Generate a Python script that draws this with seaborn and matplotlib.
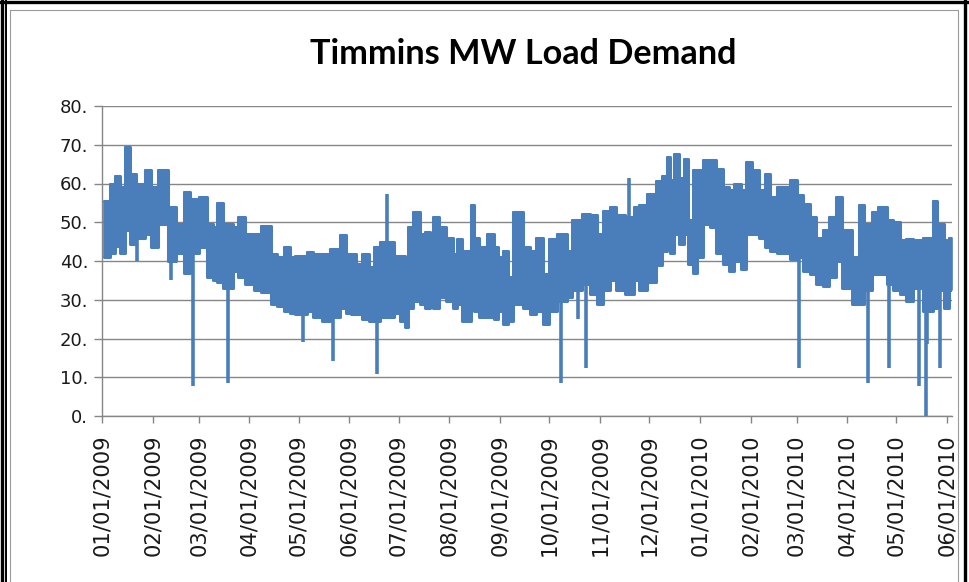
import pandas as pd
import matplotlib
matplotlib.use("Agg")
import matplotlib.pyplot as plt
import matplotlib.dates as mdates
from matplotlib.ticker import MultipleLocator, FuncFormatter
from matplotlib.lines import Line2D
import seaborn as sns

start = pd.Timestamp("2009-01-01")

# reading day (days after 01/01/2009), daily peak and trough around it (MW)
anchor_day = [1, 5, 8, 11, 14, 17, 21, 26, 30, 34,
              40, 45, 50, 54, 59, 64, 68, 70, 74, 80,
              83, 87, 93, 97, 103, 107, 111, 115, 118, 125,
              129, 134, 139, 145, 149, 152, 155, 159, 163, 166,
              170, 178, 182, 185, 187, 190, 194, 197, 200, 202,
              206, 210, 214, 217, 220, 225, 227, 230, 235, 239,
              242, 245, 248, 251, 257, 261, 265, 269, 273, 278,
              284, 287, 293, 298, 302, 306, 310, 314, 319, 325,
              328, 333, 338, 342, 345, 347, 349, 352, 355, 358,
              361, 363, 367, 371, 375, 379, 383, 386, 390, 393,
              397, 401, 405, 408, 412, 416, 420, 424, 428, 432,
              436, 440, 444, 448, 452, 458, 462, 465, 470, 474,
              479, 483, 487, 491, 495, 501, 507, 510, 514, 517]
peak_mw = [55.6, 60, 62, 59, 69.5, 62.5, 60, 63.4, 59, 63.4,
           54, 49.6, 57.8, 56, 56.5, 49.6, 48.8, 55, 49.6, 48.8,
           51.3, 47, 47, 49, 41.8, 41, 43.6, 41, 41.4, 42.3,
           41.8, 41.8, 43, 46.6, 41.8, 41.8, 39.3, 41.8, 38.4, 43.6,
           44.9, 41.4, 41.4, 39, 48.8, 52.6, 47, 47.4, 39.3, 51.3,
           48.8, 46, 41.8, 45.7, 42.7, 54.4, 46, 43.6, 47, 43.6,
           41, 42.7, 35.8, 52.6, 43.6, 42.7, 46, 36.7, 45.7, 47,
           42.7, 50.5, 52.2, 51.8, 47, 53, 54, 51.8, 51.3, 54,
           54.4, 57.4, 60.6, 62, 66.9, 60.8, 67.7, 61.3, 66.4, 50.5,
           63.4, 63.4, 66, 66, 63.8, 59, 58.2, 60, 58.2, 65.6,
           63.4, 58.2, 62.5, 56.5, 59, 59, 60.8, 57, 54.8, 51.3,
           46, 47.9, 51.3, 56.5, 47.9, 41, 54.4, 49.6, 52.6, 54,
           50.5, 50, 45.3, 45.7, 45.3, 46, 55.6, 49.6, 45.3, 46]
trough_mw = [41, 42, 44, 42, 48, 44.4, 46, 47, 43.6, 49.6,
             40, 42, 37, 42, 43.6, 35.8, 35, 34.5, 33, 37.5,
             35.8, 34, 32.4, 32, 29, 28.5, 27, 26.7, 26.3, 27,
             25.5, 24.6, 25.5, 28, 26.7, 26.3, 26.3, 25, 24.6, 24.6,
             25.5, 26.7, 24.6, 22.9, 28, 29.8, 29, 28, 29.8, 28,
             30.6, 29.8, 28, 29, 24.6, 27.6, 27, 25.5, 25.5, 25,
             27, 23.7, 24.6, 29, 28, 26.3, 27, 23.7, 27, 29.8,
             30.6, 32.4, 34, 31.5, 29, 32.4, 35, 32.4, 31.5, 35,
             32.4, 34.5, 39, 42.7, 43.6, 42, 47, 44.4, 47, 39.3,
             37, 41, 49.6, 48.8, 42, 39.3, 37.5, 40, 38, 47,
             47, 46, 43.6, 42.7, 42, 42, 40.5, 41, 37.5, 36.7,
             34, 33.6, 35.8, 40, 33, 28.9, 28.9, 32.4, 36.7, 36.7,
             34, 32.4, 31.5, 29.8, 33, 27, 28, 32.4, 28, 32.4]
end_day = 518.6

# outages and single odd readings
spike_day = [21.5, 42, 55.8, 76.7, 123, 141, 168, 173.8, 280.2, 290.8,
             295.3, 321.9, 425.7, 467.4, 480.6, 498.9, 502.8, 503.8, 511.6]
spike_mw = [40, 35, 7.8, 8.6, 19, 14.2, 10.8, 57.4, 8.6, 25,
            12.5, 61.3, 12.5, 8.6, 12.5, 7.8, 0, 18.5, 12.5]

band = pd.DataFrame({"day": anchor_day + [end_day],
                     "hi": peak_mw + [peak_mw[-1]],
                     "lo": trough_mw + [trough_mw[-1]]})
band["date"] = start + pd.to_timedelta(band["day"], unit="D")
band["mid"] = (band["hi"] + band["lo"]) / 2

spikes = pd.DataFrame({"day": spike_day, "MW": spike_mw})
spikes["date"] = start + pd.to_timedelta(spikes["day"], unit="D")
# each outage leaves from the middle of the band on that day
idx = band["day"].searchsorted(spikes["day"], side="right") - 1
spikes["base"] = band["mid"].to_numpy()[idx.clip(0)]

sns.set_style("white")
plt.rcParams["font.family"] = ["DejaVu Sans"]

W, H = 969, 582
blue = "#4a7ebb"
fig = plt.figure(figsize=(W / 100, H / 100), dpi=100)
ax = fig.add_axes([102 / W, 1 - 416 / H, (951.7 - 102) / W, (416 - 106) / H])

# hourly readings are so dense they print as a solid band
ax.fill_between(band["date"], band["lo"], band["hi"], step="post",
                facecolor=blue, edgecolor=blue, linewidth=1.2)
sns.lineplot(data=band, x="date", y="hi", ax=ax, color=blue, linewidth=2.2,
             sort=False, estimator=None, drawstyle="steps-post")
sns.lineplot(data=band, x="date", y="lo", ax=ax, color=blue, linewidth=2.2,
             sort=False, estimator=None, drawstyle="steps-post")
ax.vlines(spikes["date"], spikes["base"], spikes["MW"], color=blue, linewidth=2.6)

ax.set_ylim(0, 80)
ax.set_xlim(start, start + pd.Timedelta(days=518.7))
ax.yaxis.set_major_locator(MultipleLocator(10))
ax.yaxis.set_major_formatter(FuncFormatter(lambda v, p: f"{int(v)}."))
ax.xaxis.set_major_locator(mdates.MonthLocator())
ax.xaxis.set_major_formatter(mdates.DateFormatter("%m/%d/%Y"))
ax.grid(axis="y", color="#868686", linewidth=1.0)
ax.grid(axis="x", visible=False)
ax.set_axisbelow(True)
for s in ["top", "right"]:
    ax.spines[s].set_visible(False)
for s in ["left", "bottom"]:
    ax.spines[s].set_color("#868686")
    ax.spines[s].set_linewidth(1.0)
ax.tick_params(axis="y", length=6, width=1.0, color="#868686", pad=4,
               labelsize=13, labelcolor="#1a1a1a", left=True)
ax.tick_params(axis="x", length=5, width=1.0, color="#868686", pad=8,
               labelsize=15.2, labelcolor="#1a1a1a", rotation=90, bottom=True)
ax.set_xlabel("")
ax.set_ylabel("")

fig.text(0.540, 1 - 64 / H, "Timmins MW Load Demand", ha="center", va="baseline",
         fontsize=24.7, fontweight="bold", family=["Lato", "DejaVu Sans"], color="#000000")

# chart frame as in the screenshot
def fline(x0, y0, x1, y1, c, lw):
    fig.add_artist(Line2D([x0 / W, x1 / W], [1 - y0 / H, 1 - y1 / H],
                          color=c, linewidth=lw, transform=fig.transFigure))

fline(0, 1.5, W, 1.5, "#000000", 2.4)
fline(1.5, 0, 1.5, H, "#000000", 2.4)
fline(6, 0, 6, H, "#000000", 1.4)
fline(10, 10, 10, H, "#9a9a9a", 0.8)
fline(10, 10, 958, 10, "#9a9a9a", 0.8)
fline(958, 10, 958, H, "#9a9a9a", 0.8)
fline(965, 0, 965, H, "#000000", 2.4)

fig.savefig("out.png", dpi=100)
